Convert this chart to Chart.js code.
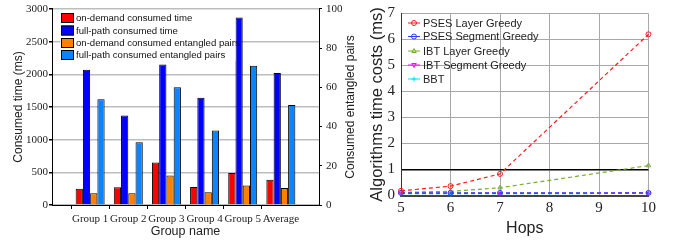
<!DOCTYPE html>
<html>
<head>
<meta charset="utf-8">
<script src="https://cdn.jsdelivr.net/npm/chart.js@4.4.1/dist/chart.umd.min.js"></script>
<style>
  html, body { margin: 0; padding: 0; background: #fff; }
  #wrap { position: relative; width: 673px; height: 245px; overflow: hidden; }
  #c1 { position: absolute; left: 0; top: 0; }
  #c2 { position: absolute; left: 355px; top: 0; }
</style>
</head>
<body>
<div id="wrap">
  <canvas id="c2" width="318" height="245"></canvas>
  <canvas id="c1" width="362" height="245"></canvas>
</div>
<script>
// ---- Left chart data ----
const groups = ['Group 1', 'Group 2', 'Group 3', 'Group 4', 'Group 5', 'Average'];
const onDemandTime = [250, 270, 650, 275, 490, 387];
const fullPathTime = [2070, 1370, 2150, 1640, 2870, 2020];
const onDemandPairs = [6, 6, 15, 6.5, 10, 8.7];
const fullPathPairs = [54, 32, 60, 38, 71, 51];

// ---- Right chart data ----
const hops = [5, 6, 7, 10];
const psesLayer = [0.18, 0.36, 0.83, 6.2];
const psesSegment = [0.1, 0.1, 0.1, 0.1];
const ibtLayer = [0.12, 0.16, 0.3, 1.15];
const ibtSegment = [0.08, 0.08, 0.08, 0.09];
const bbt = [0.07, 0.07, 0.07, 0.08];

const SERIF = "'Liberation Serif', 'Times New Roman', serif";
const SANS = "'Liberation Sans', Arial, sans-serif";

const pad = arr => [null, ...arr, null];
const xLabels = ['', ...groups, ''];
const plain = v => String(v);

const leftLegendPlugin = {
  id: 'leftLegend',
  afterDraw(chart) {
    const ctx = chart.ctx;
    ctx.save();
    ctx.fillStyle = '#fff';
    ctx.fillRect(60, 11, 175.5, 50);
    const rows = [18, 30.5, 43, 55];
    chart.data.datasets.forEach((ds, i) => {
      const y = rows[i];
      ctx.fillStyle = ds.backgroundColor;
      ctx.fillRect(61, y - 5, 13, 10);
      ctx.strokeStyle = '#000';
      ctx.lineWidth = 1;
      ctx.strokeRect(61.5, y - 4.5, 12, 9);
      ctx.fillStyle = '#111';
      ctx.font = '9.6px ' + SANS;
      ctx.textBaseline = 'middle';
      ctx.textAlign = 'left';
      ctx.fillText(ds.label, 76, y + 0.5);
    });
    // right axis title, reading bottom-to-top
    const ya = chart.scales.y1;
    ctx.translate(351, (ya.top + ya.bottom) / 2);
    ctx.rotate(-Math.PI / 2);
    ctx.font = '12px ' + SANS;
    ctx.fillStyle = '#222';
    ctx.textAlign = 'center';
    ctx.textBaseline = 'middle';
    ctx.fillText('Consumed entangled pairs', 0, 0);
    ctx.restore();
  }
};

new Chart(document.getElementById('c1'), {
  type: 'bar',
  data: {
    labels: xLabels,
    datasets: [
      { label: 'on-demand consumed time', data: pad(onDemandTime), backgroundColor: '#ff0000', yAxisID: 'y' },
      { label: 'full-path consumed time', data: pad(fullPathTime), backgroundColor: '#0000ff', yAxisID: 'y' },
      { label: 'on-demand consumed entangled pairs', data: pad(onDemandPairs), backgroundColor: '#ff8000', yAxisID: 'y1' },
      { label: 'full-path consumed entangled pairs', data: pad(fullPathPairs), backgroundColor: '#0a84ff', yAxisID: 'y1' }
    ]
  },
  options: {
    responsive: false,
    animation: false,
    devicePixelRatio: 1,
    layout: { padding: { top: 5, left: 0, right: 0, bottom: 0 } },
    plugins: { legend: { display: false }, tooltip: { enabled: false } },
    datasets: { bar: { categoryPercentage: 0.76, barPercentage: 1, borderColor: '#000', borderWidth: 1 } },
    scales: {
      x: {
        offset: false,
        grid: {
          drawOnChartArea: false,
          tickLength: 4,
          tickColor: c => (xLabels[c.index] ? '#000' : 'rgba(0,0,0,0)')
        },
        border: { color: '#000', width: 1 },
        ticks: { font: { family: SERIF, size: 11 }, color: '#222', padding: 4, autoSkip: false, maxRotation: 0 },
        title: { display: true, text: 'Group name', font: { family: SANS, size: 12.5 }, color: '#222', padding: { top: 0, bottom: 5.5 } },
        afterFit: s => { s.height = 40; }
      },
      y: {
        position: 'left',
        min: 0, max: 3000,
        ticks: { stepSize: 500, callback: plain, font: { family: SERIF, size: 11, lineHeight: 0.9 }, color: '#222', padding: 1 },
        grid: { color: '#bdbdbd', lineWidth: 1.5, tickLength: 3, tickColor: '#000' },
        border: { color: '#000', width: 1 },
        title: { display: true, text: 'Consumed time (ms)', font: { family: SANS, size: 12 }, color: '#222', padding: { top: 11, bottom: 0 } },
        afterFit: s => { s.width = 52; }
      },
      y1: {
        position: 'right',
        min: 0, max: 100,
        ticks: { stepSize: 20, callback: plain, font: { family: SERIF, size: 11, lineHeight: 0.9 }, color: '#222', padding: 4 },
        grid: { drawOnChartArea: false, tickLength: 3, tickColor: '#000' },
        border: { color: '#000', width: 1 },
        afterFit: s => { s.width = 43; }
      }
    }
  },
  plugins: [leftLegendPlugin]
});

// ---- Right chart ----
function drawMarker(ctx, style, x, y, r, color, rot) {
  ctx.save();
  ctx.strokeStyle = color;
  ctx.fillStyle = color;
  ctx.lineWidth = 1;
  ctx.beginPath();
  if (style === 'circle') {
    ctx.arc(x, y, r, 0, Math.PI * 2);
    ctx.stroke();
  } else if (style === 'triangle') {
    const s = rot ? -1 : 1;
    ctx.moveTo(x, y - s * r);
    ctx.lineTo(x + r * 0.9, y + s * r * 0.6);
    ctx.lineTo(x - r * 0.9, y + s * r * 0.6);
    ctx.closePath();
    ctx.stroke();
  } else if (style === 'cross') {
    ctx.moveTo(x - r, y); ctx.lineTo(x + r, y);
    ctx.moveTo(x, y - r); ctx.lineTo(x, y + r);
    ctx.stroke();
  }
  ctx.restore();
}

const rightLegendPlugin = {
  id: 'rightLegend',
  afterDraw(chart) {
    const ctx = chart.ctx;
    const rows = [23, 36.5, 51, 65, 79];
    chart.data.datasets.forEach((ds, i) => {
      const y = rows[i];
      ctx.save();
      ctx.strokeStyle = ds.borderColor;
      ctx.lineWidth = 1;
      ctx.beginPath();
      ctx.moveTo(53, y); ctx.lineTo(65, y);
      ctx.stroke();
      ctx.restore();
      drawMarker(ctx, ds.pointStyle, 59, y, 2.5, ds.borderColor, ds.pointRotation);
      ctx.save();
      ctx.fillStyle = '#222';
      ctx.font = '11px ' + SANS;
      ctx.textBaseline = 'middle';
      ctx.textAlign = 'left';
      ctx.fillText(ds.label, 68, y + 0.5);
      ctx.restore();
    });
  }
};

const toPts = arr => hops.map((h, i) => ({ x: h, y: arr[i] }));
const lineDs = (label, arr, color, style, rot) => ({
  label,
  data: toPts(arr),
  borderColor: color,
  backgroundColor: color,
  borderWidth: 1.2,
  borderDash: [4, 3],
  pointStyle: style,
  pointRotation: rot || 0,
  pointRadius: 2.5,
  pointBorderWidth: 1,
  pointBackgroundColor: 'rgba(255,255,255,0)',
  pointBorderColor: color,
  tension: 0,
  clip: false
});

new Chart(document.getElementById('c2'), {
  type: 'line',
  data: {
    datasets: [
      lineDs('PSES Layer Greedy', psesLayer, '#ff1a1a', 'circle'),
      lineDs('PSES Segment Greedy', psesSegment, '#2b3bff', 'circle'),
      lineDs('IBT Layer Greedy', ibtLayer, '#77ac30', 'triangle'),
      lineDs('IBT Segment Greedy', ibtSegment, '#ff00ff', 'triangle', 180),
      lineDs('BBT', bbt, '#00e5ff', 'cross')
    ]
  },
  options: {
    responsive: false,
    animation: false,
    devicePixelRatio: 1,
    layout: { padding: { top: 7.5, left: 0, right: 24.5, bottom: 0 } },
    plugins: { legend: { display: false }, tooltip: { enabled: false } },
    scales: {
      x: {
        type: 'linear',
        min: 5, max: 10,
        ticks: { stepSize: 1, font: { family: SERIF, size: 15, lineHeight: 1 }, color: '#222', padding: 5 },
        grid: { color: '#a8a8a8', lineWidth: 1, drawTicks: false },
        border: { color: '#444', width: 2 },
        title: { display: true, text: 'Hops', font: { family: SANS, size: 16 }, color: '#222', padding: { top: 0, bottom: 7 } },
        afterFit: s => { s.height = 49.5; }
      },
      y: {
        min: 0, max: 7,
        ticks: { stepSize: 1, font: { family: SERIF, size: 15, lineHeight: 1 }, color: '#222', padding: 6 },
        grid: {
          color: c => (c.tick && c.tick.value === 1 ? '#000' : '#a8a8a8'),
          lineWidth: c => (c.tick && c.tick.value === 1 ? 1.5 : 1),
          drawTicks: false
        },
        border: { color: '#333', width: 1 },
        title: { display: true, text: 'Algorithms time costs (ms)', font: { family: SANS, size: 16.5 }, color: '#222', padding: { top: 13, bottom: 0 } },
        afterFit: s => { s.width = 46; }
      }
    }
  },
  plugins: [rightLegendPlugin]
});
</script>
</body>
</html>
